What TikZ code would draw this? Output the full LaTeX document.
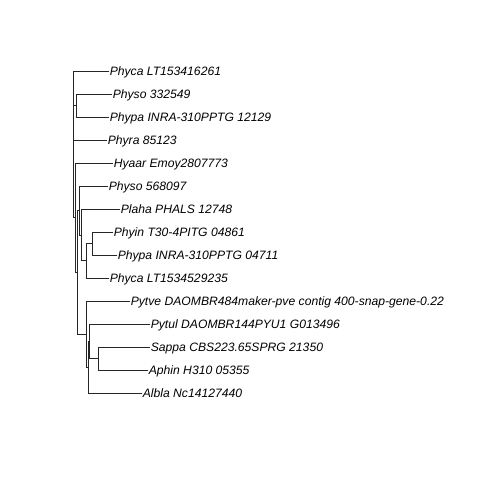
\documentclass[tikz,border=0pt]{standalone}
\usepackage{fontspec}
\setmainfont{Liberation Sans}
\begin{document}
\begin{tikzpicture}[x=1pt,y=-1pt,
  edge/.style={draw=black!85,line width=0.8pt,line cap=rect},
  tip/.style={anchor=west,inner xsep=0.6pt,inner ysep=0pt,text height=8.6pt,text depth=0pt,
    font=\fontsize{12.15}{14}\selectfont\itshape}]
\useasboundingbox (0,0) rectangle (480,480);
% tips
\node[tip] (t1)  at (109,71)  {Phyca LT153416261};
\node[tip] (t2)  at (112,94)  {Physo 332549};
\node[tip] (t3)  at (109,117) {Phypa INRA-310PPTG 12129};
\node[tip] (t4)  at (107,140) {Phyra 85123};
\node[tip] (t5)  at (113,163) {Hyaar Emoy2807773};
\node[tip] (t6)  at (108,186) {Physo 568097};
\node[tip] (t7)  at (120,209) {Plaha PHALS 12748};
\node[tip] (t8)  at (113,232) {Phyin T30-4PITG 04861};
\node[tip] (t9)  at (117,255) {Phypa INRA-310PPTG 04711};
\node[tip] (t10) at (109,278) {Phyca LT1534529235};
\node[tip] (t11) at (130,301) {Pytve DAOMBR484maker-pve contig 400-snap-gene-0.22};
\node[tip] (t12) at (150,324) {Pytul DAOMBR144PYU1 G013496};
\node[tip] (t13) at (150,347) {Sappa CBS223.65SPRG 21350};
\node[tip] (t14) at (148,370) {Aphin H310 05355};
\node[tip] (t15) at (142,393) {Albla Nc14127440};
% internal nodes
\coordinate (P)  at (76,105.5);
\coordinate (F)  at (92,243.5);
\coordinate (E)  at (86,260.75);
\coordinate (D)  at (81,234.9);
\coordinate (C)  at (79.5,210.4);
\coordinate (SA) at (98,358.5);
\coordinate (H)  at (89,341.25);
\coordinate (I)  at (88,367.1);
\coordinate (G)  at (86,334);
\coordinate (B)  at (77,272.2);
\coordinate (A)  at (75,217.6);
\coordinate (R)  at (73,140);
% edges
\draw[edge] (R) |- (t1.west);
\draw[edge] (R) |- (P);
\draw[edge] (R) |- (t4.west);
\draw[edge] (R) |- (A);
\draw[edge] (P) |- (t2.west);
\draw[edge] (P) |- (t3.west);
\draw[edge] (A) |- (t5.west);
\draw[edge] (A) |- (B);
\draw[edge] (B) |- (C);
\draw[edge] (B) |- (G);
\draw[edge] (C) |- (t6.west);
\draw[edge] (C) |- (D);
\draw[edge] (D) |- (t7.west);
\draw[edge] (D) |- (E);
\draw[edge] (E) |- (F);
\draw[edge] (E) |- (t10.west);
\draw[edge] (F) |- (t8.west);
\draw[edge] (F) |- (t9.west);
\draw[edge] (G) |- (t11.west);
\draw[edge] (G) |- (I);
\draw[edge] (I) |- (H);
\draw[edge] (I) |- (t15.west);
\draw[edge] (H) |- (t12.west);
\draw[edge] (H) |- (SA);
\draw[edge] (SA) |- (t13.west);
\draw[edge] (SA) |- (t14.west);
\end{tikzpicture}
\end{document}
